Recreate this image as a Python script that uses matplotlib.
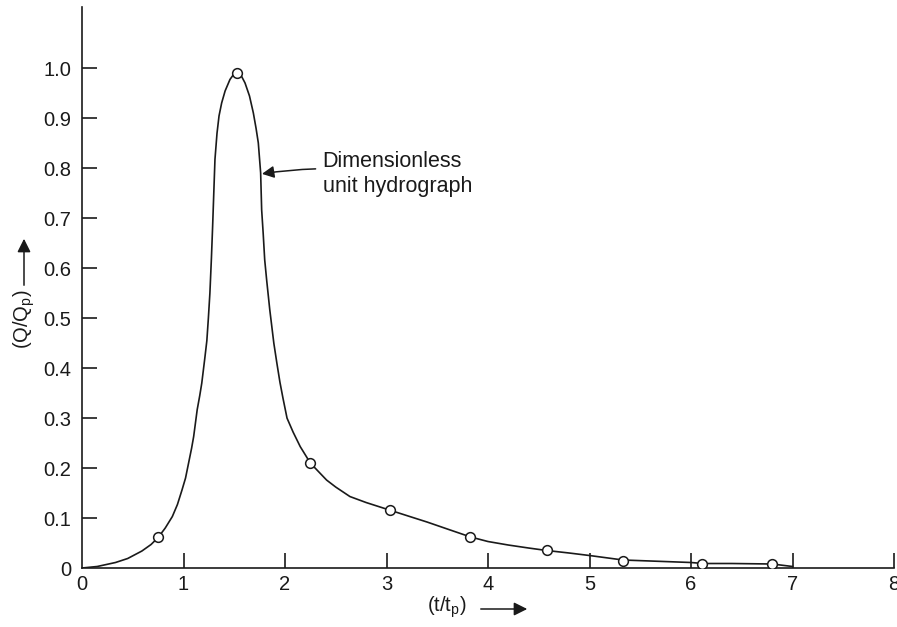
import matplotlib
matplotlib.use("Agg")
import matplotlib.pyplot as plt

plt.rcParams['font.family'] = ['Liberation Sans', 'DejaVu Sans']

# curve (t/tp, Q/Qp)
curve_x = [0.0, 0.15, 0.33, 0.45, 0.59, 0.68, 0.75, 0.82, 0.89, 0.94, 0.985,
           1.02, 1.05, 1.08, 1.10, 1.135, 1.16, 1.18, 1.21, 1.23, 1.245, 1.26,
           1.275, 1.287, 1.30, 1.31, 1.33, 1.35, 1.376, 1.41, 1.458, 1.49, 1.53,
           1.57, 1.606, 1.65, 1.688, 1.715, 1.737, 1.76, 1.77, 1.785, 1.80, 1.82,
           1.85, 1.89, 1.92, 1.95, 1.98, 2.02, 2.08, 2.15, 2.25, 2.41, 2.5, 2.64,
           2.8, 3.03, 3.23, 3.4, 3.6, 3.83, 4.0, 4.2, 4.4, 4.58, 4.8, 5.0, 5.33,
           5.6, 6.0, 6.12, 6.4, 6.8, 7.0]
curve_y = [0.0, 0.003, 0.011, 0.019, 0.034, 0.047, 0.061, 0.080, 0.103, 0.127, 0.156,
           0.18, 0.21, 0.24, 0.263, 0.317, 0.345, 0.37, 0.42, 0.455, 0.50, 0.55,
           0.62, 0.684, 0.76, 0.818, 0.87, 0.905, 0.931, 0.955, 0.978, 0.987, 0.99,
           0.985, 0.971, 0.945, 0.911, 0.88, 0.851, 0.791, 0.717, 0.67, 0.617, 0.575,
           0.517, 0.45, 0.41, 0.372, 0.34, 0.30, 0.272, 0.243, 0.21, 0.176, 0.162, 0.143,
           0.131, 0.116, 0.103, 0.092, 0.078, 0.062, 0.053, 0.046, 0.040, 0.035, 0.030, 0.025, 0.016,
           0.014, 0.011, 0.009, 0.009, 0.008, 0.003]

# plotted points (circles)
pts_x = [0.75, 1.53, 2.25, 3.03, 3.82, 4.58, 5.33, 6.11, 6.80]
pts_y = [0.062, 0.99, 0.21, 0.116, 0.062, 0.036, 0.015, 0.009, 0.008]

x_ticks = [0, 1, 2, 3, 4, 5, 6, 7, 8]
y_ticks = [0, 0.1, 0.2, 0.3, 0.4, 0.5, 0.6, 0.7, 0.8, 0.9, 1.0]
y_labels = ['0', '0.1', '0.2', '0.3', '0.4', '0.5', '0.6', '0.7', '0.8', '0.9', '1.0']

fig = plt.figure(figsize=(8.97, 6.27), dpi=100)
ax = fig.add_axes([82 / 897, 59 / 627, 812 / 897, 561 / 627])

ax.plot(curve_x, curve_y, color='#1a1a1a', lw=1.2, zorder=2)
ax.plot(pts_x, pts_y, 'o', color='#1a1a1a', mfc='white', ms=7, mew=1.1, zorder=3)

ax.set_xlim(0, 8)
ax.set_ylim(0, 1.123)
ax.set_xticks(x_ticks)
ax.set_xticklabels([str(t) for t in x_ticks])
ax.set_yticks(y_ticks)
ax.set_yticklabels(y_labels)

for s in ['top', 'right']:
    ax.spines[s].set_visible(False)
for s in ['left', 'bottom']:
    ax.spines[s].set_linewidth(1.2)
    ax.spines[s].set_color('#1a1a1a')

ax.tick_params(axis='both', direction='in', length=11, width=1.2, color='#1a1a1a',
               labelsize=14.5, labelcolor='#1a1a1a')
ax.tick_params(axis='x', pad=5)
ax.tick_params(axis='y', pad=8)
ax.xaxis.get_major_ticks()[0].tick1line.set_visible(False)
ax.yaxis.get_major_ticks()[0].tick1line.set_visible(False)

ax.annotate('Dimensionless\nunit hydrograph', xy=(1.773, 0.789), xytext=(2.37, 0.788),
            ha='left', va='center', fontsize=15.5, color='#1a1a1a', linespacing=1.25,
            arrowprops=dict(arrowstyle='-|>', color='#1a1a1a', lw=1.1,
                            mutation_scale=18, shrinkA=3, shrinkB=0,
                            connectionstyle='arc3,rad=0.08'))

# axis labels with arrows
fig.text(447 / 897, 1 - 607 / 627, '(t/t$_\\mathregular{p}$)', ha='center', va='center',
         fontsize=14.5, color='#1a1a1a')
fig.add_artist(matplotlib.patches.FancyArrowPatch(
    (478 / 897, 1 - 609 / 627), (530 / 897, 1 - 609 / 627), transform=fig.transFigure,
    arrowstyle='-|>', mutation_scale=20, color='#1a1a1a', lw=1.1))

fig.text(24 / 897, 1 - 319 / 627, '(Q/Q$_\\mathregular{p}$)', ha='center', va='center',
         rotation=90, fontsize=14.5, color='#1a1a1a')
fig.add_artist(matplotlib.patches.FancyArrowPatch(
    (24 / 897, 1 - 288 / 627), (24 / 897, 1 - 236 / 627), transform=fig.transFigure,
    arrowstyle='-|>', mutation_scale=20, color='#1a1a1a', lw=1.1))

fig.savefig('out.png', dpi=100)
